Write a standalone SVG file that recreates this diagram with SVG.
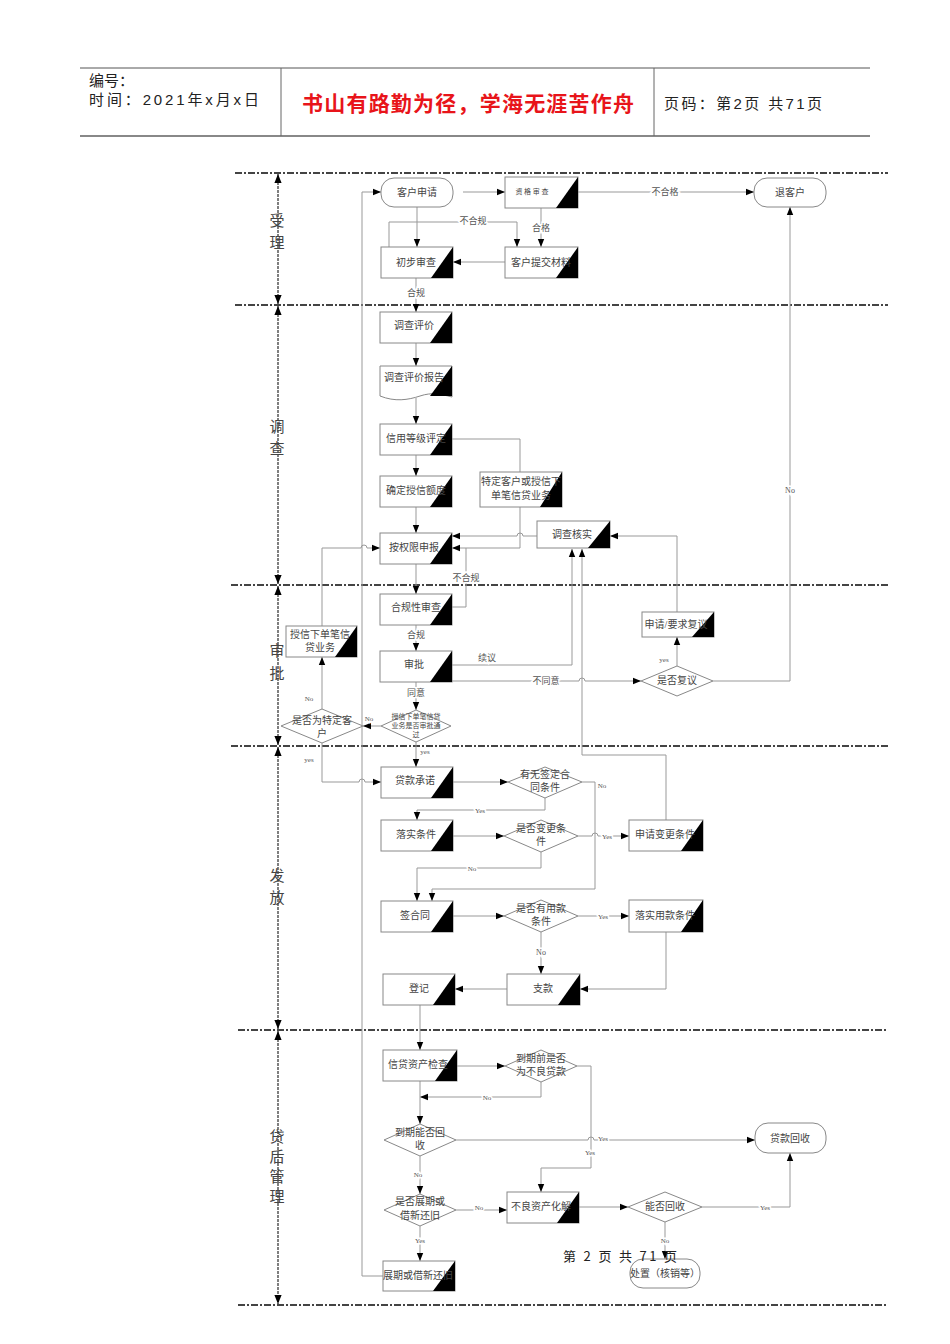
<svg xmlns="http://www.w3.org/2000/svg" width="950" height="1344" viewBox="0 0 950 1344">
<defs>
<marker id="a" viewBox="0 0 10 10" refX="10" refY="5" markerWidth="8" markerHeight="8" orient="auto" markerUnits="userSpaceOnUse"><path d="M0,1 L10,5 L0,9 z" fill="#000"/></marker>
<marker id="la" viewBox="0 0 10 10" refX="10" refY="5" markerWidth="12" markerHeight="9" orient="auto-start-reverse" markerUnits="userSpaceOnUse"><path d="M0,1 L10,5 L0,9 z" fill="#000"/></marker>
<style>
.t{font-family:"Liberation Serif","Noto Sans CJK SC",serif;font-size:10px;fill:#444;text-anchor:middle}
.s{font-size:7px}
.l{font-family:"Liberation Serif","Noto Sans CJK SC",serif;font-size:9px;fill:#555;text-anchor:middle;paint-order:stroke;stroke:#fff;stroke-width:3px}
.box{fill:#fff;stroke:#888;stroke-width:1}
.tri{fill:#000}
.c{fill:none;stroke:#999;stroke-width:1}
.ca{fill:none;stroke:#999;stroke-width:1;marker-end:url(#a)}
.lane{stroke:#444;stroke-width:2;stroke-dasharray:7 2 2 2}
.la{stroke:#555;stroke-width:1.5;stroke-dasharray:3 1;marker-start:url(#la);marker-end:url(#la)}
.lt{font-family:"Liberation Serif","Noto Sans CJK SC",serif;font-size:15px;fill:#444;text-anchor:middle}
.h{font-family:"Liberation Sans","Noto Sans CJK SC",sans-serif;font-size:15px;fill:#222}
</style>
</defs>
<g id="header">
<line x1="80" y1="68" x2="870" y2="68" stroke="#555" stroke-width="1"/>
<line x1="80" y1="136" x2="870" y2="136" stroke="#888" stroke-width="2"/>
<line x1="281" y1="68" x2="281" y2="136" stroke="#666"/>
<line x1="654" y1="68" x2="654" y2="136" stroke="#666"/>
<text class="h" x="89" y="86">编号：</text>
<text class="h" x="89" y="105" textLength="170" lengthAdjust="spacing">时间：2021年x月x日</text>
<text x="468" y="111" font-family="'Noto Sans CJK SC',sans-serif" font-size="21" font-weight="bold" fill="#e8141a" text-anchor="middle" textLength="332" lengthAdjust="spacing">书山有路勤为径，学海无涯苦作舟</text>
<text class="h" x="664" y="109" textLength="158" lengthAdjust="spacing">页码：第2页 共71页</text>
</g>
<g id="lanes">
<line class="lane" x1="235" y1="173" x2="888" y2="173"/>
<line class="lane" x1="235" y1="305" x2="888" y2="305"/>
<line class="lane" x1="231" y1="585" x2="888" y2="585"/>
<line class="lane" x1="231" y1="746" x2="888" y2="746"/>
<line class="lane" x1="238" y1="1030" x2="888" y2="1030"/>
<line class="lane" x1="238" y1="1305" x2="888" y2="1305"/>
<line class="la" x1="278" y1="174" x2="278" y2="304"/>
<line class="la" x1="278" y1="306" x2="278" y2="584"/>
<line class="la" x1="278" y1="586" x2="278" y2="745"/>
<line class="la" x1="278" y1="747" x2="278" y2="1029"/>
<line class="la" x1="278" y1="1031" x2="278" y2="1304"/>
<text class="lt" x="277" y="226">受</text><text class="lt" x="277" y="248">理</text>
<text class="lt" x="277" y="432">调</text><text class="lt" x="277" y="454">查</text>
<text class="lt" x="277" y="656">审</text><text class="lt" x="277" y="679">批</text>
<text class="lt" x="277" y="881">发</text><text class="lt" x="277" y="903">放</text>
<text class="lt" x="277" y="1142">贷</text><text class="lt" x="277" y="1162">后</text><text class="lt" x="277" y="1182">管</text><text class="lt" x="277" y="1202">理</text>
</g>
<g id="connectors">
<path class="ca" d="M463,192 H505"/>
<path class="ca" d="M578,192 H754"/><text class="l" x="665" y="195">不合格</text>
<path class="ca" d="M541,208 V247"/><text class="l" x="541" y="231">合格</text>
<path class="ca" d="M417,207 V247"/>
<path class="ca" d="M389,247 V222 H517 V247"/><text class="l" x="473" y="224">不合规</text>
<path class="ca" d="M505,262 H453"/>
<path class="ca" d="M416,278 V312"/><text class="l" x="416" y="296">合规</text>
<path class="ca" d="M416,343 V366"/>
<path class="ca" d="M416,398 V424"/>
<path class="ca" d="M416,455 V476"/>
<path class="ca" d="M416,507 V533"/>
<path class="c" d="M452,439 H520 V472"/>
<path class="ca" d="M520,507 V548 H452"/>
<path class="ca" d="M537,536 H523 a3,3 0 0 0 -6,0 H452"/>
<path class="ca" d="M322,626 V548 H361 a3,3 0 0 1 6,0 H380"/>
<path class="ca" d="M416,564 V594"/>
<path class="c" d="M452,607 H466 V548"/><text class="l" x="466" y="581">不合规</text>
<path class="ca" d="M416,625 V651"/><text class="l" x="416" y="638">合规</text>
<path class="ca" d="M452,665 H572 V549"/><text class="l" x="487" y="661">续议</text>
<path class="ca" d="M452,681 H579 a3,3 0 0 1 6,0 H641"/><text class="l" x="546" y="684">不同意</text>
<path class="ca" d="M677,666 V637"/><text class="l" x="664" y="662" style="font-size:7px">yes</text>
<path class="ca" d="M677,612 V536 H610"/>
<path class="ca" d="M713,681 H790 V207"/><text class="l" x="790" y="493" style="font-size:8px">No</text>
<path class="ca" d="M416,682 V710"/><text class="l" x="416" y="696">同意</text>
<path class="ca" d="M381,726 H363"/><text class="l" x="369" y="721" style="font-size:7px">No</text>
<path class="ca" d="M322,709 V657"/><text class="l" x="309" y="701" style="font-size:7px">No</text>
<path class="ca" d="M322,743 V782 H359 a3,3 0 0 1 6,0 H381"/><text class="l" x="309" y="762" style="font-size:7px">yes</text>
<path class="ca" d="M416,742 V767"/><text class="l" x="425" y="754" style="font-size:7px">yes</text>
<path class="ca" d="M666,820 V755 H582 V549"/>
<path class="ca" d="M453,782 H508"/>
<path class="ca" d="M545,798 V810 H417 V820"/><text class="l" x="480" y="813" style="font-size:7px">Yes</text>
<path class="ca" d="M582,782 H595 V889 H432 V901"/><text class="l" x="602" y="788" style="font-size:7px">No</text>
<path class="ca" d="M453,836 H504"/>
<path class="ca" d="M578,836 H592 a3,3 0 0 1 6,0 H629"/><text class="l" x="607" y="839" style="font-size:7px">Yes</text>
<path class="ca" d="M541,852 V868 H417 V901"/><text class="l" x="472" y="871" style="font-size:7px">No</text>
<path class="ca" d="M453,916 H504"/>
<path class="ca" d="M578,916 H629"/><text class="l" x="603" y="919" style="font-size:7px">Yes</text>
<path class="ca" d="M666,932 V989 H580"/>
<path class="ca" d="M541,932 V974"/><text class="l" x="541" y="955" style="font-size:8px">No</text>
<path class="ca" d="M507,989 H455"/>
<path class="ca" d="M420,1005 V1050"/>
<path class="ca" d="M457,1066 H505"/>
<path class="ca" d="M541,1082 V1097 H420"/><text class="l" x="487" y="1100" style="font-size:7px">No</text>
<path class="ca" d="M420,1081 V1124"/>
<path class="ca" d="M577,1066 H591 V1168 H541 V1192"/><text class="l" x="590" y="1155" style="font-size:7px">Yes</text>
<path class="ca" d="M456,1140 H588 a3,3 0 0 1 6,0 H755"/><text class="l" x="603" y="1141" style="font-size:7px">Yes</text>
<path class="ca" d="M420,1156 V1194"/><text class="l" x="418" y="1177" style="font-size:7px">No</text>
<path class="ca" d="M456,1210 H507"/><text class="l" x="479" y="1210" style="font-size:7px">No</text>
<path class="ca" d="M420,1226 V1261"/><text class="l" x="420" y="1243" style="font-size:7px">Yes</text>
<path class="ca" d="M383,1276 H362 V192 H381"/>
<path class="ca" d="M579,1207 H628"/>
<path class="ca" d="M702,1207 H790 V1153"/><text class="l" x="765" y="1210" style="font-size:7px">Yes</text>
<path class="ca" d="M665,1222 V1259"/><text class="l" x="665" y="1243" style="font-size:7px">No</text>
</g>
<g id="n-khsq"><rect class="box" x="381" y="178" width="72" height="29" rx="13"/><text class="t" x="417" y="196">客户申请</text></g>
<g id="n-tkh"><rect class="box" x="754" y="178" width="72" height="29" rx="13"/><text class="t" x="790" y="196">退客户</text></g>
<g id="n-zgsc"><rect class="box" x="505" y="177" width="73" height="31"/><polygon class="tri" points="578,177 578,208 556,208"/><text class="t s" x="532" y="194">资 格 审 查</text></g>
<g id="n-cbsc"><rect class="box" x="381" y="247" width="72" height="31"/><polygon class="tri" points="453,247 453,278 431,278"/><text class="t" x="416" y="266">初步审查</text></g>
<g id="n-khtj"><rect class="box" x="505" y="247" width="73" height="31"/><polygon class="tri" points="578,247 578,278 556,278"/><text class="t" x="541" y="266">客户提交材料</text></g>
<g id="n-dcpj"><rect class="box" x="380" y="312" width="72" height="31"/><polygon class="tri" points="452,312 452,343 430,343"/><text class="t" x="414" y="329">调查评价</text></g>
<g id="n-dcbg"><path class="box" d="M380,366 H452 V397 C440,394 432,392 420,396 C408,400 395,402 380,396 Z"/><polygon class="tri" points="452,366 452,396 430,396"/><text class="t" x="414" y="381">调查评价报告</text></g>
<g id="n-xydj"><rect class="box" x="380" y="424" width="72" height="31"/><polygon class="tri" points="452,424 452,455 430,455"/><text class="t" x="416" y="442">信用等级评定</text></g>
<g id="n-qded"><rect class="box" x="380" y="476" width="72" height="31"/><polygon class="tri" points="452,476 452,507 430,507"/><text class="t" x="416" y="494">确定授信额度</text></g>
<g id="n-tdkh"><rect class="box" x="480" y="472" width="82" height="35"/><polygon class="tri" points="562,472 562,507 540,507"/><text class="t" x="521" y="485">特定客户或授信下</text><text class="t" x="521" y="499">单笔信贷业务</text></g>
<g id="n-aqx"><rect class="box" x="380" y="533" width="72" height="31"/><polygon class="tri" points="452,533 452,564 430,564"/><text class="t" x="414" y="551">按权限申报</text></g>
<g id="n-dchs"><rect class="box" x="537" y="521" width="73" height="27"/><polygon class="tri" points="610,521 610,548 588,548"/><text class="t" x="572" y="538">调查核实</text></g>
<g id="n-hgx"><rect class="box" x="380" y="594" width="72" height="31"/><polygon class="tri" points="452,594 452,625 430,625"/><text class="t" x="416" y="611">合规性审查</text></g>
<g id="n-sxxd"><rect class="box" x="286" y="626" width="71" height="31"/><polygon class="tri" points="357,626 357,657 335,657"/><text class="t" x="320" y="638">授信下单笔信</text><text class="t" x="320" y="651">贷业务</text></g>
<g id="n-sp"><rect class="box" x="380" y="651" width="72" height="31"/><polygon class="tri" points="452,651 452,682 430,682"/><text class="t" x="414" y="668">审批</text></g>
<g id="n-sqfy"><rect class="box" x="642" y="612" width="72" height="25"/><polygon class="tri" points="714,612 714,637 692,637"/><text class="t" x="676" y="628">申请/要求复议</text></g>
<g id="n-sffy"><polygon class="box" points="641,681 677,666 713,681 677,696"/><text class="t" x="677" y="684">是否复议</text></g>
<g id="n-sftd"><polygon class="box" points="281,726 322,709 363,726 322,743"/><text class="t" x="322" y="724">是否为特定客</text><text class="t" x="322" y="737">户</text></g>
<g id="n-sxsp"><polygon class="box" points="381,726 416,710 451,726 416,742"/><text class="t s" x="416" y="719">授信下单笔信贷</text><text class="t s" x="416" y="728">业务是否审批通</text><text class="t s" x="416" y="737">过</text></g>
<g id="n-dkcn"><rect class="box" x="381" y="767" width="72" height="31"/><polygon class="tri" points="453,767 453,798 431,798"/><text class="t" x="415" y="784">贷款承诺</text></g>
<g id="n-ywqd"><polygon class="box" points="508,782 545,767 582,782 545,798"/><text class="t" x="545" y="778">有无签定合</text><text class="t" x="545" y="791">同条件</text></g>
<g id="n-lstj"><rect class="box" x="381" y="820" width="72" height="31"/><polygon class="tri" points="453,820 453,851 431,851"/><text class="t" x="416" y="838">落实条件</text></g>
<g id="n-sfbg"><polygon class="box" points="504,836 541,820 578,836 541,852"/><text class="t" x="541" y="832">是否变更条</text><text class="t" x="541" y="845">件</text></g>
<g id="n-sqbg"><rect class="box" x="629" y="820" width="74" height="31"/><polygon class="tri" points="703,820 703,851 681,851"/><text class="t" x="665" y="838">申请变更条件</text></g>
<g id="n-qht"><rect class="box" x="381" y="901" width="72" height="31"/><polygon class="tri" points="453,901 453,932 431,932"/><text class="t" x="415" y="919">签合同</text></g>
<g id="n-sfyk"><polygon class="box" points="504,916 541,900 578,916 541,932"/><text class="t" x="541" y="912">是否有用款</text><text class="t" x="541" y="925">条件</text></g>
<g id="n-lsyk"><rect class="box" x="629" y="900" width="74" height="32"/><polygon class="tri" points="703,900 703,932 681,932"/><text class="t" x="665" y="919">落实用款条件</text></g>
<g id="n-zk"><rect class="box" x="507" y="974" width="73" height="31"/><polygon class="tri" points="580,974 580,1005 558,1005"/><text class="t" x="543" y="992">支款</text></g>
<g id="n-dj"><rect class="box" x="383" y="974" width="72" height="31"/><polygon class="tri" points="455,974 455,1005 433,1005"/><text class="t" x="419" y="992">登记</text></g>
<g id="n-xdjc"><rect class="box" x="383" y="1050" width="74" height="31"/><polygon class="tri" points="457,1050 457,1081 435,1081"/><text class="t" x="418" y="1068">信贷资产检查</text></g>
<g id="n-dqq"><polygon class="box" points="505,1066 541,1050 577,1066 541,1082"/><text class="t" x="541" y="1062">到期前是否</text><text class="t" x="541" y="1075">为不良贷款</text></g>
<g id="n-dqhs"><polygon class="box" points="384,1140 420,1124 456,1140 420,1156"/><text class="t" x="420" y="1136">到期能否回</text><text class="t" x="420" y="1149">收</text></g>
<g id="n-dkhs"><rect class="box" x="755" y="1123" width="71" height="30" rx="13"/><text class="t" x="790" y="1142">贷款回收</text></g>
<g id="n-sfzq"><polygon class="box" points="384,1210 420,1194 456,1210 420,1226"/><text class="t" x="420" y="1205">是否展期或</text><text class="t" x="420" y="1219">借新还旧</text></g>
<g id="n-blzc"><rect class="box" x="507" y="1192" width="72" height="31"/><polygon class="tri" points="579,1192 579,1223 557,1223"/><text class="t" x="541" y="1210">不良资产化解</text></g>
<g id="n-nfhs"><polygon class="box" points="628,1207 665,1192 702,1207 665,1222"/><text class="t" x="665" y="1210">能否回收</text></g>
<g id="n-cz"><rect class="box" x="630" y="1259" width="70" height="29" rx="13"/><text class="t" x="665" y="1277">处置（核销等）</text></g>
<g id="n-zqjx"><rect class="box" x="383" y="1261" width="72" height="30"/><polygon class="tri" points="455,1261 455,1291 433,1291"/><text class="t" x="418" y="1279">展期或借新还旧</text></g>
<g id="footer"><text x="563" y="1261" font-family="'Noto Sans CJK SC',sans-serif" font-size="13" fill="#222" textLength="114" lengthAdjust="spacing">第 2 页 共 71 页</text></g>
</svg>
